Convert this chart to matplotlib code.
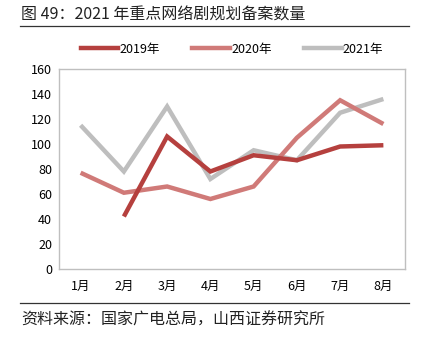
import matplotlib
matplotlib.use("Agg")
import matplotlib.pyplot as plt
from matplotlib.lines import Line2D
import numpy as np

plt.rcParams['font.family'] = ['Noto Sans CJK SC', 'DejaVu Sans']

months = ["1月", "2月", "3月", "4月", "5月", "6月", "7月", "8月"]
s2019 = [np.nan, 42, 106, 78, 91, 87, 98, 99]
s2020 = [77, 61, 66, 56, 66, 105, 135, 116]
s2021 = [115, 78, 130, 72, 95, 87, 125, 136]
series_names = ["2019年", "2020年", "2021年"]
colors = ["#B5403E", "#D07A78", "#BEBEBE"]
yticks = [0, 20, 40, 60, 80, 100, 120, 140, 160]

W, H = 424, 339
fig = plt.figure(figsize=(W / 100, H / 100), dpi=100)

def fx(px):
    return px / W

def fy(py):
    return 1 - py / H

ax = fig.add_axes([fx(59), fy(269), fx(405) - fx(59), fy(69) - fy(269)])
x = np.arange(len(months))
for data, i in [(s2019, 0), (s2020, 1), (s2021, 2)]:
    ax.plot(x, data, color=colors[i], lw=3.2, solid_capstyle='butt',
            solid_joinstyle='miter', zorder=3 - i * 0.1)

ax.set_xlim(-0.5, len(months) - 0.5)
ax.set_ylim(0, 160)
ax.set_yticks(yticks)
ax.set_yticklabels([str(v) for v in yticks], fontsize=9)
ax.set_xticks(x)
ax.set_xticklabels(months, fontsize=9)
ax.tick_params(axis='both', length=0, pad=5)
ax.tick_params(axis='x', pad=8)
for s in ax.spines.values():
    s.set_color("#BFBFBF")
    s.set_linewidth(1.0)

# legend
handles = [Line2D([0], [0], color=c, lw=3.2) for c in colors]
fig.legend(handles, series_names, loc='center', bbox_to_anchor=(fx(232), fy(49)),
           ncol=3, frameon=False, fontsize=9, handlelength=3.0, columnspacing=2.6,
           handletextpad=0.1)

# title and rules
fig.text(fx(21), fy(15), "图 49：2021 年重点网络剧规划备案数量", fontsize=11.5,
         va='center', ha='left', color='#222222')
fig.add_artist(Line2D([fx(20), fx(409)], [fy(26), fy(26)], color='#333333', lw=0.9))
fig.add_artist(Line2D([fx(20), fx(409)], [fy(303), fy(303)], color='#333333', lw=0.9))
fig.text(fx(21), fy(320), "资料来源：国家广电总局，山西证券研究所", fontsize=11.5,
         va='center', ha='left', color='#222222')

fig.savefig("out.png", dpi=100)
